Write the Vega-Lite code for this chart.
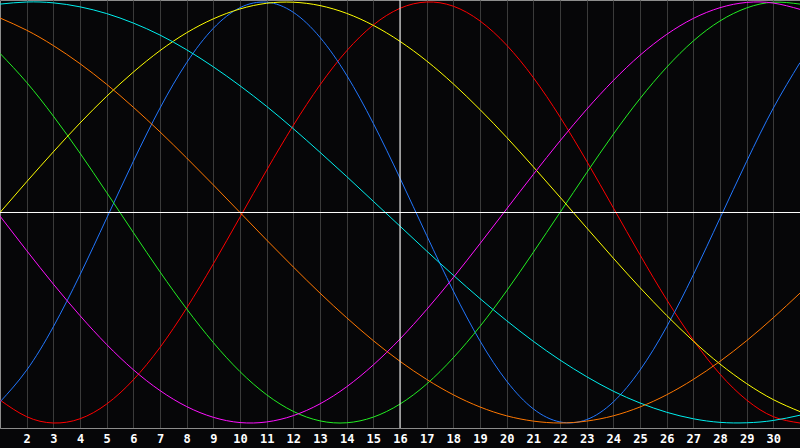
{
  "$schema": "https://vega.github.io/schema/vega-lite/v6.json",
  "width": 800,
  "height": 428,
  "autosize": {"type": "none"},
  "padding": {"left": 0, "right": 0, "top": 0, "bottom": 20},
  "background": "#060608",
  "config": {"view": {"stroke": "#8c8c8c", "fill": "#060608"}},
  "datasets": {
    "curves": [
      {"d":1,"s":"red","v":-0.891},{"d":2,"s":"red","v":-0.970},{"d":3,"s":"red","v":-1.000},{"d":4,"s":"red","v":-0.980},{"d":5,"s":"red","v":-0.910},{"d":6,"s":"red","v":-0.795},{"d":7,"s":"red","v":-0.641},{"d":8,"s":"red","v":-0.454},{"d":9,"s":"red","v":-0.244},{"d":10,"s":"red","v":-0.022},{"d":11,"s":"red","v":0.201},{"d":12,"s":"red","v":0.414},{"d":13,"s":"red","v":0.606},{"d":14,"s":"red","v":0.768},{"d":15,"s":"red","v":0.891},{"d":16,"s":"red","v":0.970},{"d":17,"s":"red","v":1.000},{"d":18,"s":"red","v":0.980},{"d":19,"s":"red","v":0.910},{"d":20,"s":"red","v":0.795},{"d":21,"s":"red","v":0.641},{"d":22,"s":"red","v":0.454},{"d":23,"s":"red","v":0.244},{"d":24,"s":"red","v":0.022},{"d":25,"s":"red","v":-0.201},{"d":26,"s":"red","v":-0.414},{"d":27,"s":"red","v":-0.606},{"d":28,"s":"red","v":-0.768},{"d":29,"s":"red","v":-0.891},{"d":30,"s":"red","v":-0.970},{"d":31,"s":"red","v":-1.000},
      {"d":1,"s":"blue","v":-0.900},{"d":2,"s":"blue","v":-0.749},{"d":3,"s":"blue","v":-0.543},{"d":4,"s":"blue","v":-0.296},{"d":5,"s":"blue","v":-0.027},{"d":6,"s":"blue","v":0.243},{"d":7,"s":"blue","v":0.496},{"d":8,"s":"blue","v":0.712},{"d":9,"s":"blue","v":0.875},{"d":10,"s":"blue","v":0.973},{"d":11,"s":"blue","v":0.999},{"d":12,"s":"blue","v":0.951},{"d":13,"s":"blue","v":0.832},{"d":14,"s":"blue","v":0.652},{"d":15,"s":"blue","v":0.423},{"d":16,"s":"blue","v":0.163},{"d":17,"s":"blue","v":-0.109},{"d":18,"s":"blue","v":-0.373},{"d":19,"s":"blue","v":-0.610},{"d":20,"s":"blue","v":-0.801},{"d":21,"s":"blue","v":-0.933},{"d":22,"s":"blue","v":-0.995},{"d":23,"s":"blue","v":-0.984},{"d":24,"s":"blue","v":-0.900},{"d":25,"s":"blue","v":-0.749},{"d":26,"s":"blue","v":-0.543},{"d":27,"s":"blue","v":-0.296},{"d":28,"s":"blue","v":-0.027},{"d":29,"s":"blue","v":0.243},{"d":30,"s":"blue","v":0.496},{"d":31,"s":"blue","v":0.712},
      {"d":1,"s":"green","v":0.756},{"d":2,"s":"green","v":0.618},{"d":3,"s":"green","v":0.458},{"d":4,"s":"green","v":0.282},{"d":5,"s":"green","v":0.095},{"d":6,"s":"green","v":-0.095},{"d":7,"s":"green","v":-0.282},{"d":8,"s":"green","v":-0.458},{"d":9,"s":"green","v":-0.618},{"d":10,"s":"green","v":-0.756},{"d":11,"s":"green","v":-0.866},{"d":12,"s":"green","v":-0.945},{"d":13,"s":"green","v":-0.990},{"d":14,"s":"green","v":-0.999},{"d":15,"s":"green","v":-0.972},{"d":16,"s":"green","v":-0.910},{"d":17,"s":"green","v":-0.815},{"d":18,"s":"green","v":-0.690},{"d":19,"s":"green","v":-0.541},{"d":20,"s":"green","v":-0.372},{"d":21,"s":"green","v":-0.189},{"d":22,"s":"green","v":0.000},{"d":23,"s":"green","v":0.189},{"d":24,"s":"green","v":0.372},{"d":25,"s":"green","v":0.541},{"d":26,"s":"green","v":0.690},{"d":27,"s":"green","v":0.815},{"d":28,"s":"green","v":0.910},{"d":29,"s":"green","v":0.972},{"d":30,"s":"green","v":0.999},{"d":31,"s":"green","v":0.990},
      {"d":1,"s":"yellow","v":0.000},{"d":2,"s":"yellow","v":0.146},{"d":3,"s":"yellow","v":0.288},{"d":4,"s":"yellow","v":0.425},{"d":5,"s":"yellow","v":0.552},{"d":6,"s":"yellow","v":0.667},{"d":7,"s":"yellow","v":0.769},{"d":8,"s":"yellow","v":0.854},{"d":9,"s":"yellow","v":0.920},{"d":10,"s":"yellow","v":0.967},{"d":11,"s":"yellow","v":0.994},{"d":12,"s":"yellow","v":0.999},{"d":13,"s":"yellow","v":0.983},{"d":14,"s":"yellow","v":0.946},{"d":15,"s":"yellow","v":0.889},{"d":16,"s":"yellow","v":0.813},{"d":17,"s":"yellow","v":0.720},{"d":18,"s":"yellow","v":0.611},{"d":19,"s":"yellow","v":0.489},{"d":20,"s":"yellow","v":0.357},{"d":21,"s":"yellow","v":0.217},{"d":22,"s":"yellow","v":0.073},{"d":23,"s":"yellow","v":-0.073},{"d":24,"s":"yellow","v":-0.217},{"d":25,"s":"yellow","v":-0.357},{"d":26,"s":"yellow","v":-0.489},{"d":27,"s":"yellow","v":-0.611},{"d":28,"s":"yellow","v":-0.720},{"d":29,"s":"yellow","v":-0.813},{"d":30,"s":"yellow","v":-0.889},{"d":31,"s":"yellow","v":-0.946},
      {"d":1,"s":"cyan","v":0.990},{"d":2,"s":"cyan","v":1.000},{"d":3,"s":"cyan","v":0.996},{"d":4,"s":"cyan","v":0.977},{"d":5,"s":"cyan","v":0.945},{"d":6,"s":"cyan","v":0.900},{"d":7,"s":"cyan","v":0.843},{"d":8,"s":"cyan","v":0.773},{"d":9,"s":"cyan","v":0.692},{"d":10,"s":"cyan","v":0.602},{"d":11,"s":"cyan","v":0.504},{"d":12,"s":"cyan","v":0.398},{"d":13,"s":"cyan","v":0.286},{"d":14,"s":"cyan","v":0.171},{"d":15,"s":"cyan","v":0.053},{"d":16,"s":"cyan","v":-0.065},{"d":17,"s":"cyan","v":-0.183},{"d":18,"s":"cyan","v":-0.298},{"d":19,"s":"cyan","v":-0.409},{"d":20,"s":"cyan","v":-0.514},{"d":21,"s":"cyan","v":-0.612},{"d":22,"s":"cyan","v":-0.701},{"d":23,"s":"cyan","v":-0.780},{"d":24,"s":"cyan","v":-0.849},{"d":25,"s":"cyan","v":-0.905},{"d":26,"s":"cyan","v":-0.949},{"d":27,"s":"cyan","v":-0.980},{"d":28,"s":"cyan","v":-0.997},{"d":29,"s":"cyan","v":-0.999},{"d":30,"s":"cyan","v":-0.988},{"d":31,"s":"cyan","v":-0.963},
      {"d":1,"s":"orange","v":0.924},{"d":2,"s":"orange","v":0.866},{"d":3,"s":"orange","v":0.793},{"d":4,"s":"orange","v":0.707},{"d":5,"s":"orange","v":0.609},{"d":6,"s":"orange","v":0.500},{"d":7,"s":"orange","v":0.383},{"d":8,"s":"orange","v":0.259},{"d":9,"s":"orange","v":0.131},{"d":10,"s":"orange","v":0.000},{"d":11,"s":"orange","v":-0.131},{"d":12,"s":"orange","v":-0.259},{"d":13,"s":"orange","v":-0.383},{"d":14,"s":"orange","v":-0.500},{"d":15,"s":"orange","v":-0.609},{"d":16,"s":"orange","v":-0.707},{"d":17,"s":"orange","v":-0.793},{"d":18,"s":"orange","v":-0.866},{"d":19,"s":"orange","v":-0.924},{"d":20,"s":"orange","v":-0.966},{"d":21,"s":"orange","v":-0.991},{"d":22,"s":"orange","v":-1.000},{"d":23,"s":"orange","v":-0.991},{"d":24,"s":"orange","v":-0.966},{"d":25,"s":"orange","v":-0.924},{"d":26,"s":"orange","v":-0.866},{"d":27,"s":"orange","v":-0.793},{"d":28,"s":"orange","v":-0.707},{"d":29,"s":"orange","v":-0.609},{"d":30,"s":"orange","v":-0.500},{"d":31,"s":"orange","v":-0.383},
      {"d":1,"s":"magenta","v":-0.017},{"d":2,"s":"magenta","v":-0.181},{"d":3,"s":"magenta","v":-0.340},{"d":4,"s":"magenta","v":-0.490},{"d":5,"s":"magenta","v":-0.627},{"d":6,"s":"magenta","v":-0.747},{"d":7,"s":"magenta","v":-0.846},{"d":8,"s":"magenta","v":-0.922},{"d":9,"s":"magenta","v":-0.973},{"d":10,"s":"magenta","v":-0.998},{"d":11,"s":"magenta","v":-0.995},{"d":12,"s":"magenta","v":-0.965},{"d":13,"s":"magenta","v":-0.909},{"d":14,"s":"magenta","v":-0.828},{"d":15,"s":"magenta","v":-0.724},{"d":16,"s":"magenta","v":-0.601},{"d":17,"s":"magenta","v":-0.461},{"d":18,"s":"magenta","v":-0.309},{"d":19,"s":"magenta","v":-0.148},{"d":20,"s":"magenta","v":0.017},{"d":21,"s":"magenta","v":0.181},{"d":22,"s":"magenta","v":0.340},{"d":23,"s":"magenta","v":0.490},{"d":24,"s":"magenta","v":0.627},{"d":25,"s":"magenta","v":0.747},{"d":26,"s":"magenta","v":0.846},{"d":27,"s":"magenta","v":0.922},{"d":28,"s":"magenta","v":0.973},{"d":29,"s":"magenta","v":0.998},{"d":30,"s":"magenta","v":0.995},{"d":31,"s":"magenta","v":0.965}
    ]
  },
  "layer": [
    {
      "data": {"name": "curves"},
      "mark": {"type": "line", "strokeWidth": 1, "interpolate": "natural", "clip": true},
      "encoding": {
        "x": {
          "field": "d", "type": "quantitative",
          "scale": {"domain": [1, 31], "nice": false, "zero": false},
          "axis": {
            "values": [2,3,4,5,6,7,8,9,10,11,12,13,14,15,16,17,18,19,20,21,22,23,24,25,26,27,28,29,30],
            "tickCount": 60, "format": "d",
            "title": null, "grid": true, "gridColor": "#3a3a3a", "gridWidth": 1,
            "ticks": false, "domainColor": "#8c8c8c", "domainWidth": 1,
            "labelColor": "#ffffff", "labelFont": "DejaVu Sans Mono", "labelFontWeight": "bold",
            "labelFontSize": 12, "labelPadding": 5, "labelFlush": false, "labelOverlap": false,
            "labelBound": false
          }
        },
        "y": {
          "field": "v", "type": "quantitative",
          "scale": {"domain": [-1.0238, 1.0095], "nice": false, "zero": false},
          "axis": null
        },
        "color": {
          "field": "s", "type": "nominal", "legend": null,
          "scale": {
            "domain": ["orange", "cyan", "magenta", "yellow", "green", "blue", "red"],
            "range": ["#ff7700", "#00eeee", "#ff11ff", "#ffff00", "#22ee22", "#2277ff", "#ff0000"]
          }
        }
      }
    },
    {
      "data": {"values": [{"zero": 0}]},
      "mark": {"type": "rule", "color": "#ffffff", "strokeWidth": 1},
      "encoding": {"y": {"field": "zero", "type": "quantitative"}}
    },
    {
      "data": {"values": [{"today": 16}]},
      "mark": {"type": "rule", "color": "#ffffff", "strokeWidth": 1},
      "encoding": {"x": {"field": "today", "type": "quantitative"}}
    }
  ]
}
